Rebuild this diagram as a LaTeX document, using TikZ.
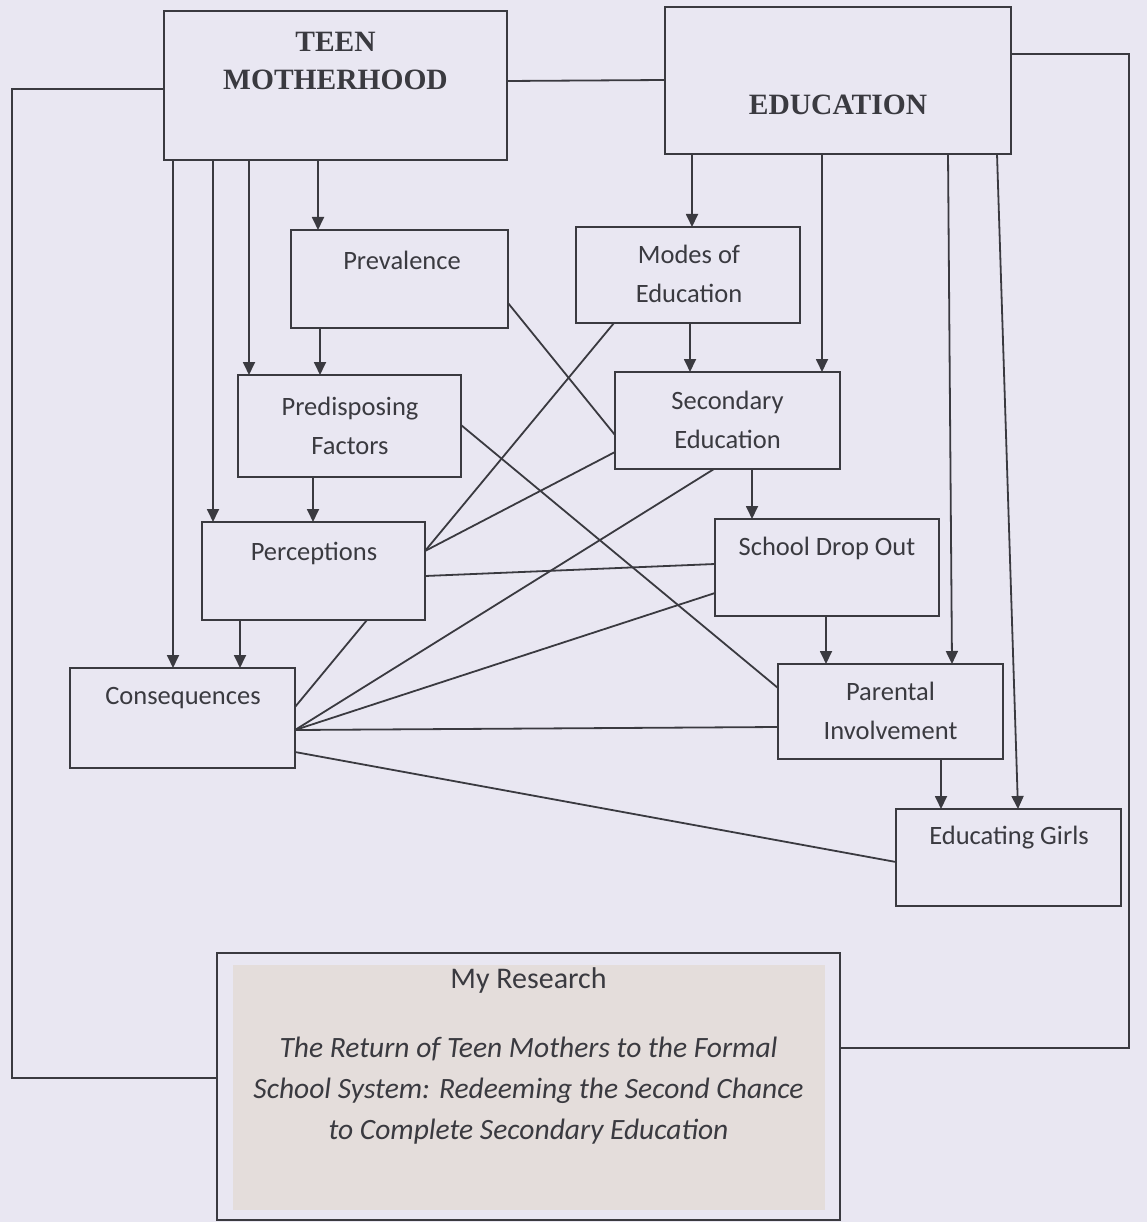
\documentclass[tikz,border=0pt]{standalone}
\usepackage{fontspec}
\newfontfamily\calfont{Carlito}
\newfontfamily\timesfont{Liberation Serif}
\usetikzlibrary{arrows.meta,calc}
\definecolor{paper}{RGB}{233,231,242}
\definecolor{ink}{RGB}{58,58,64}
\definecolor{panel}{RGB}{228,221,219}

% rectangle node given by its corners: name, x1, y1, x2, y2
\newcommand\mkbox[5]{%
  \pgfmathsetmacro\bw{#4-#2}%
  \pgfmathsetmacro\bh{#5-#3}%
  \node[box, minimum width=\bw pt, minimum height=\bh pt] (#1) at ({(#2+#4)/2},{(#3+#5)/2}) {};}

\begin{document}
\begin{tikzpicture}[x=1pt,y=-1pt,
  box/.style={draw=ink, line width=1.9pt, rectangle, inner sep=0pt, outer sep=0pt},
  conn/.style={draw=ink, line width=1.8pt},
  arr/.style={conn, -{Triangle[length=13pt,width=12pt]}},
  lbl/.style={text=ink, font=\calfont\fontsize{26.5}{39}\selectfont, align=center, inner sep=0pt},
  reslbl/.style={text=ink, font=\calfont\fontsize{30}{39}\selectfont, align=center, inner sep=0pt},
  ital/.style={text=ink, font=\calfont\itshape\fontsize{29.5}{41}\selectfont, align=center, inner sep=0pt},
  head/.style={text=ink, font=\timesfont\bfseries\fontsize{29.5}{38}\selectfont, align=center, inner sep=0pt},
]
\fill[paper] (0,0) rectangle (1147,1222);
\useasboundingbox (0,0) rectangle (1147,1222);

% shaded panel inside the research box
\fill[panel] (233,965) rectangle (825,1210);

% boxes
\mkbox{tm}{164}{11}{507}{160}
\mkbox{ed}{665}{7}{1011}{154}
\mkbox{prev}{291}{230}{508}{328}
\mkbox{modes}{576}{227}{800}{323}
\mkbox{pred}{238}{375}{461}{477}
\mkbox{sec}{615}{372}{840}{469}
\mkbox{perc}{202}{522}{425}{620}
\mkbox{drop}{715}{519}{939}{616}
\mkbox{cons}{70}{668}{295}{768}
\mkbox{par}{778}{664}{1003}{759}
\mkbox{girls}{896}{809}{1121}{906}
\mkbox{res}{217}{953}{840}{1220}

% box texts
\node[head] (tm-t) at (335.5,61) {TEEN\\MOTHERHOOD};
\node[head] (ed-t) at (838,105) {EDUCATION};
\node[lbl] (prev-t) at (402,260) {Prevalence};
\node[lbl] (modes-t) at (689,274) {Modes of\\Education};
\node[lbl] (pred-t) at (350,425.5) {Predisposing\\Factors};
\node[lbl] (sec-t) at (727.5,420) {Secondary\\Education};
\node[lbl] (perc-t) at (314,553) {Perceptions};
\node[lbl] (drop-t) at (827,548) {School Drop Out};
\node[lbl] (cons-t) at (183,698) {Consequences};
\node[lbl] (par-t) at (890.5,711) {Parental\\Involvement};
\node[lbl] (girls-t) at (1009,838) {Educating Girls};
\node[reslbl] (res-t) at (528.5,980) {My Research};
\node[ital] (res-i) at (528.5,1091) {The Return of Teen Mothers to the Formal\\School System: Redeeming the Second Chance\\to Complete Secondary Education};

% corners of the two outer loops
\coordinate (lb) at (12,1078);
\coordinate (rb) at (1129,1048);

% downward arrows
\draw[arr] ($(tm.south west)+(154,0)$) -- ($(prev.north west)+(27,0)$);
\draw[arr] ($(tm.south west)+(85,0)$) -- ($(pred.north west)+(11,0)$);
\draw[arr] ($(tm.south west)+(49,0)$) -- ($(perc.north west)+(11,0)$);
\draw[arr] ($(tm.south west)+(9,0)$) -- ($(cons.north west)+(103,0)$);
\draw[arr] ($(prev.south west)+(29,0)$) -- ($(pred.north west)+(82,0)$);
\draw[arr] ($(pred.south west)+(75,0)$) -- ($(perc.north west)+(111,0)$);
\draw[arr] ($(perc.south west)+(38,0)$) -- ($(cons.north west)+(170,0)$);
\draw[arr] ($(ed.south west)+(27,0)$) -- ($(modes.north west)+(116,0)$);
\draw[arr] ($(ed.south west)+(157,0)$) -- ($(sec.north west)+(207,0)$);
\draw[arr] ($(ed.south west)+(283,0)$) -- ($(par.north west)+(174,0)$);
\draw[arr] ($(ed.south west)+(332,0)$) -- ($(girls.north west)+(122,0)$);
\draw[arr] ($(modes.south west)+(114,0)$) -- ($(sec.north west)+(75,0)$);
\draw[arr] ($(sec.south west)+(137,0)$) -- ($(drop.north west)+(37,0)$);
\draw[arr] ($(drop.south west)+(111,0)$) -- ($(par.north west)+(48,0)$);
\draw[arr] ($(par.south west)+(163,0)$) -- ($(girls.north west)+(45,0)$);

% link between the two main themes and the loops to the research box
\draw[conn] ($(tm.north east)+(0,70)$) -- ($(ed.north west)+(0,73)$);
\draw[conn] ($(tm.north west)+(0,78)$) -| (lb) -- ($(res.north west)+(0,125)$);
\draw[conn] ($(ed.north east)+(0,47)$) -| (rb) -- ($(res.north east)+(0,95)$);

% cross links
\draw[conn] ($(prev.north east)+(0,73)$) -- ($(sec.north west)+(0,63)$);
\draw[conn] ($(modes.south west)+(38,0)$) -- ($(perc.north east)+(0,29)$);
\draw[conn] ($(pred.north east)+(0,50)$) -- ($(par.north west)+(0,24)$);
\draw[conn] ($(sec.north west)+(0,80)$) -- ($(perc.north east)+(0,29)$);
\draw[conn] ($(sec.south west)+(99,0)$) -- ($(cons.north east)+(0,62)$);
\draw[conn] ($(drop.north west)+(0,74)$) -- ($(cons.north east)+(0,62)$);
\draw[conn] ($(perc.north east)+(0,54)$) -- ($(drop.north west)+(0,45)$);
\draw[conn] ($(perc.south west)+(165,0)$) -- ($(cons.north east)+(0,39)$);
\draw[conn] ($(cons.north east)+(0,62)$) -- ($(par.north west)+(0,63)$);
\draw[conn] ($(cons.north east)+(0,84)$) -- ($(girls.north west)+(0,53)$);
\end{tikzpicture}
\end{document}
